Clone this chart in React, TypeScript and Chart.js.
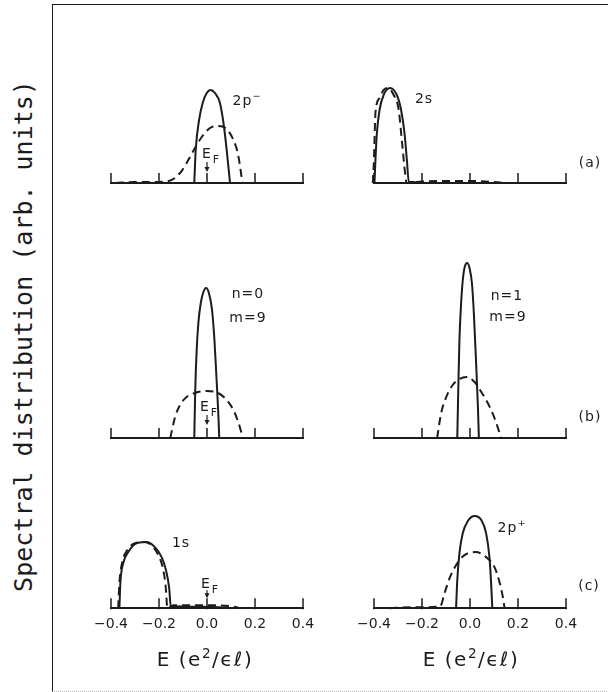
import React, { useEffect, useRef } from "react";
import { Chart, registerables } from "chart.js";

Chart.register(...registerables);

const INK = "#1c1c1c";

// x axis: E (e^2/εl)
const xTicks = [-0.4, -0.2, 0.0, 0.2, 0.4];
const xTickLabels = ["\u22120.4", "\u22120.2", "0.0", "0.2", "0.4"];

// (a) left: 2p-
const p2mSolidE = [-0.053, -0.047, -0.033, -0.018, -0.001, 0.015, 0.033, 0.054, 0.071, 0.082, 0.096];
const p2mSolidY = [0, 0.33, 0.63, 0.8, 0.9, 0.93, 0.9, 0.8, 0.56, 0.33, 0];
const p2mDashE = [-0.38, -0.3, -0.22, -0.16, -0.112, -0.078, -0.05, -0.022, 0.0125, 0.047, 0.082, 0.11, 0.128, 0.14, 0.147];
const p2mDashY = [0, 0.01, 0.01, 0.02, 0.1, 0.23, 0.35, 0.46, 0.55, 0.57, 0.54, 0.43, 0.3, 0.13, 0];

// (a) right: 2s
const s2SolidE = [-0.398, -0.394, -0.388, -0.377, -0.36, -0.333, -0.305, -0.287, -0.273, -0.263, -0.255, -0.24, -0.2];
const s2SolidY = [0, 0.23, 0.5, 0.73, 0.88, 0.95, 0.88, 0.73, 0.5, 0.23, 0.01, 0.01, 0];
const s2DashE = [-0.405, -0.4, -0.397, -0.394, -0.377, -0.36, -0.342, -0.318, -0.297, -0.283, -0.269, -0.264, -0.2, -0.1, 0.0, 0.1, 0.15];
const s2DashY = [0, 0.25, 0.5, 0.7, 0.85, 0.93, 0.95, 0.88, 0.73, 0.4, 0.07, 0.0, 0.015, 0.02, 0.02, 0.01, 0];

// (b) left: n=0, m=9
const n0SolidE = [-0.053, -0.049, -0.043, -0.036, -0.026, -0.015, -0.004, 0.008, 0.021, 0.031, 0.04, 0.047, 0.051];
const n0SolidY = [0, 0.48, 0.88, 1.15, 1.35, 1.46, 1.5, 1.45, 1.28, 0.98, 0.58, 0.25, 0];
const n0DashE = [-0.153, -0.133, -0.1125, -0.085, -0.05, 0.0, 0.047, 0.082, 0.11, 0.13, 0.15];
const n0DashY = [0, 0.21, 0.33, 0.41, 0.45, 0.47, 0.45, 0.38, 0.28, 0.16, 0];

// (b) right: n=1, m=9
const n1SolidE = [-0.053, -0.048, -0.044, -0.037, -0.03, -0.022, -0.012, -0.002, 0.008, 0.016, 0.026, 0.033, 0.037];
const n1SolidY = [0, 0.58, 0.98, 1.35, 1.58, 1.71, 1.75, 1.7, 1.55, 1.25, 0.72, 0.31, 0];
const n1DashE = [-0.137, -0.12, -0.099, -0.072, -0.044, -0.013, 0.019, 0.047, 0.074, 0.102, 0.13];
const n1DashY = [0, 0.25, 0.41, 0.53, 0.59, 0.61, 0.56, 0.46, 0.35, 0.2, 0];

// (c) left: 1s
const s1SolidE = [-0.365, -0.361, -0.349, -0.328, -0.3, -0.255, -0.217, -0.189, -0.171, -0.158, -0.15, -0.14, -0.05, 0.05, 0.1];
const s1SolidY = [0, 0.25, 0.45, 0.56, 0.64, 0.66, 0.61, 0.51, 0.38, 0.21, 0, 0.02, 0.015, 0.01, 0];
const s1DashE = [-0.37, -0.365, -0.353, -0.332, -0.3, -0.261, -0.224, -0.199, -0.182, -0.172, -0.165, -0.14, -0.1, 0.0, 0.1, 0.14];
const s1DashY = [0, 0.25, 0.46, 0.58, 0.65, 0.66, 0.61, 0.51, 0.38, 0.21, 0, 0.03, 0.03, 0.03, 0.02, 0];

// (c) right: 2p+
const p2pSolidE = [-0.058, -0.053, -0.044, -0.03, -0.009, 0.019, 0.047, 0.067, 0.081, 0.088, 0.093];
const p2pSolidY = [0, 0.28, 0.55, 0.75, 0.87, 0.92, 0.88, 0.75, 0.51, 0.25, 0];
const p2pDashE = [-0.335, -0.25, -0.18, -0.124, -0.106, -0.085, -0.058, -0.023, 0.023, 0.067, 0.102, 0.123, 0.137, 0.144];
const p2pDashY = [0, 0.01, 0.01, 0.02, 0.15, 0.3, 0.43, 0.53, 0.56, 0.51, 0.41, 0.26, 0.11, 0];

type PanelSpec = {
  key: string;
  left: number;
  top: number;
  width: number;
  height: number;
  padTop: number;
  padBottom: number;
  yMax: number;
  solidE: number[];
  solidY: number[];
  dashE: number[];
  dashY: number[];
  showLabels: boolean;
  ef?: [number, number];
};

const zip = (xs: number[], ys: number[]) => xs.map((x, i) => ({ x, y: ys[i] }));

const panels: PanelSpec[] = [
  { key: "a1", left: 81, top: 53, width: 252, height: 135, padTop: 10, padBottom: 5, yMax: 1.2, solidE: p2mSolidE, solidY: p2mSolidY, dashE: p2mDashE, dashY: p2mDashY, showLabels: false, ef: [21, 11] },
  { key: "a2", left: 344, top: 53, width: 252, height: 135, padTop: 10, padBottom: 5, yMax: 1.2, solidE: s2SolidE, solidY: s2SolidY, dashE: s2DashE, dashY: s2DashY, showLabels: false },
  { key: "b1", left: 81, top: 228, width: 252, height: 215, padTop: 10, padBottom: 5, yMax: 2.0, solidE: n0SolidE, solidY: n0SolidY, dashE: n0DashE, dashY: n0DashY, showLabels: false, ef: [23, 13] },
  { key: "b2", left: 344, top: 228, width: 252, height: 215, padTop: 10, padBottom: 5, yMax: 2.0, solidE: n1SolidE, solidY: n1SolidY, dashE: n1DashE, dashY: n1DashY, showLabels: false },
  { key: "c1", left: 81, top: 478, width: 252, height: 168, padTop: 10, padBottom: 5, yMax: 1.2, solidE: s1SolidE, solidY: s1SolidY, dashE: s1DashE, dashY: s1DashY, showLabels: true, ef: [18, 10] },
  { key: "c2", left: 344, top: 478, width: 252, height: 168, padTop: 10, padBottom: 5, yMax: 1.2, solidE: p2pSolidE, solidY: p2pSolidY, dashE: p2pDashE, dashY: p2pDashY, showLabels: true },
];

const upTicks = {
  id: "upTicks",
  afterDraw(chart: any, _args: any, opts: any) {
    const xs = chart.scales.x;
    const ys = chart.scales.y;
    const ctx = chart.ctx as CanvasRenderingContext2D;
    const base = ys.getPixelForValue(0);
    ctx.save();
    ctx.strokeStyle = INK;
    ctx.fillStyle = INK;
    ctx.lineWidth = 1.5;
    ctx.beginPath();
    for (const v of xTicks) {
      const px = xs.getPixelForValue(v);
      ctx.moveTo(px, base + 1);
      ctx.lineTo(px, base - 10);
    }
    ctx.stroke();
    if (opts && opts.ef) {
      const px = xs.getPixelForValue(0);
      const [t, b] = opts.ef;
      ctx.lineWidth = 1.2;
      ctx.beginPath();
      ctx.moveTo(px, base - t);
      ctx.lineTo(px, base - b - 2);
      ctx.stroke();
      ctx.beginPath();
      ctx.moveTo(px - 2.5, base - b - 5);
      ctx.lineTo(px, base - b);
      ctx.lineTo(px + 2.5, base - b - 5);
      ctx.closePath();
      ctx.fill();
    }
    ctx.restore();
  },
};

function PanelChart({ p }: { p: PanelSpec }) {
  const ref = useRef<HTMLCanvasElement>(null);
  useEffect(() => {
    const chart = new Chart(ref.current as HTMLCanvasElement, {
      type: "line",
      data: {
        datasets: [
          {
            data: zip(p.solidE, p.solidY),
            borderColor: INK,
            borderWidth: 2,
            pointRadius: 0,
            cubicInterpolationMode: "monotone",
            fill: false,
            clip: false,
          } as any,
          {
            data: zip(p.dashE, p.dashY),
            borderColor: INK,
            borderWidth: 2,
            borderDash: [8, 5],
            pointRadius: 0,
            cubicInterpolationMode: "monotone",
            fill: false,
            clip: false,
          } as any,
        ],
      },
      options: {
        responsive: false,
        animation: false,
        events: [],
        layout: { padding: { left: 30, right: 30, top: p.padTop, bottom: p.padBottom } },
        plugins: {
          legend: { display: false },
          tooltip: { enabled: false },
          upTicks: { ef: p.ef },
        } as any,
        scales: {
          x: {
            type: "linear",
            min: -0.4,
            max: 0.4,
            afterBuildTicks: (s: any) => {
              s.ticks = xTicks.map((v) => ({ value: v }));
            },
            grid: { display: false, drawTicks: false, tickLength: 0 },
            border: { display: true, color: INK, width: 2 },
            ticks: {
              display: p.showLabels,
              padding: 8,
              autoSkip: false,
              maxRotation: 0,
              color: INK,
              font: { family: "DejaVu Sans", size: 14 },
              callback: (_v: any, i: number) => xTickLabels[i],
            },
          },
          y: { display: false, min: 0, max: p.yMax },
        },
      },
      plugins: [upTicks as any],
    });
    return () => chart.destroy();
  }, []);
  return (
    <canvas
      ref={ref}
      width={p.width}
      height={p.height}
      style={{ position: "absolute", left: p.left, top: p.top }}
    />
  );
}

function Label({ x, y, size = 14, children, family = "DejaVu Sans", spacing = 1 }: any) {
  return (
    <div
      style={{
        position: "absolute",
        left: x,
        top: y,
        transform: "translate(-50%, -50%)",
        fontFamily: family,
        fontSize: size,
        lineHeight: 1,
        whiteSpace: "nowrap",
        letterSpacing: spacing,
        color: INK,
      }}
    >
      {children}
    </div>
  );
}

const Sup = ({ children }: any) => (
  <span style={{ fontSize: "0.68em", position: "relative", top: "-0.6em" }}>{children}</span>
);
const Sub = ({ children }: any) => (
  <span style={{ fontSize: "0.78em", position: "relative", top: "0.45em", marginLeft: 2 }}>{children}</span>
);

export default function App() {
  return (
    <div
      style={{
        position: "absolute",
        left: 0,
        top: 0,
        width: 608,
        height: 692,
        background: "#fff",
        overflow: "hidden",
      }}
    >
      <div
        style={{
          position: "absolute",
          left: 52,
          top: 4,
          width: 600,
          height: 686,
          borderLeft: `1.5px solid ${INK}`,
          borderTop: `1.5px solid ${INK}`,
          borderBottom: "1px dotted #bbb",
        }}
      />
      {panels.map((p) => (
        <PanelChart key={p.key} p={p} />
      ))}

      <div
        style={{
          position: "absolute",
          left: 23,
          top: 336,
          transform: "translate(-50%, -50%) rotate(-90deg)",
          fontFamily: "DejaVu Sans Mono",
          fontSize: 25,
          lineHeight: 1,
          whiteSpace: "nowrap",
          color: INK,
        }}
      >
        Spectral distribution (arb. units)
      </div>

      <Label x={247} y={100}>2p<Sup>−</Sup></Label>
      <Label x={424} y={98}>2s</Label>
      <Label x={248} y={293}>n=0</Label>
      <Label x={248} y={317}>m=9</Label>
      <Label x={507} y={295}>n=1</Label>
      <Label x={508} y={316}>m=9</Label>
      <Label x={181} y={542}>1s</Label>
      <Label x={512} y={527}>2p<Sup>+</Sup></Label>

      <Label x={590} y={162}>(a)</Label>
      <Label x={590} y={416}>(b)</Label>
      <Label x={589} y={585}>(c)</Label>

      <Label x={210.5} y={153} spacing={0}>E<Sub>F</Sub></Label>
      <Label x={208.5} y={406} spacing={0}>E<Sub>F</Sub></Label>
      <Label x={209.5} y={583} spacing={0}>E<Sub>F</Sub></Label>

      <Label x={205} y={659} size={20} spacing={1.5}>E (e<Sup>2</Sup>/ϵℓ)</Label>
      <Label x={471} y={659} size={20} spacing={1.5}>E (e<Sup>2</Sup>/ϵℓ)</Label>
    </div>
  );
}
